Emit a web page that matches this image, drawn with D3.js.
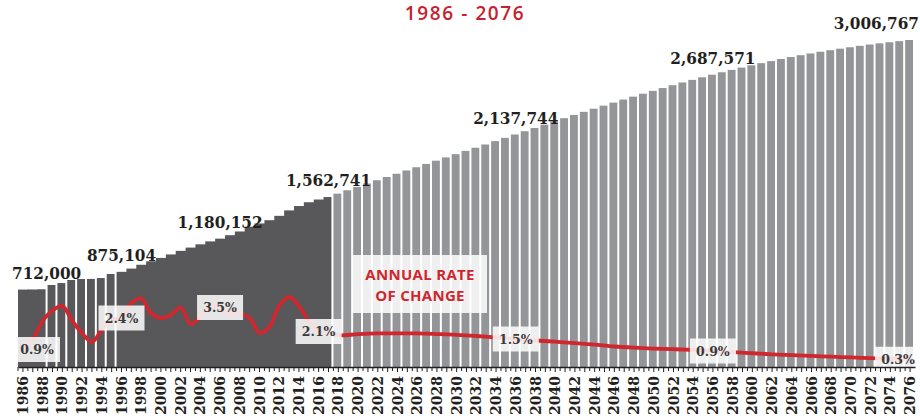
<!DOCTYPE html>
<html>
<head>
<meta charset="utf-8">
<script src="https://cdn.jsdelivr.net/npm/d3@7"></script>
<style>
  body { margin: 0; background: #fff; }
  svg { display: block; }
</style>
</head>
<body>
<svg id="chart" width="920" height="420"></svg>
<script>
/* Data */
const histYears = d3.range(1986, 2018);
const projYears = d3.range(2018, 2077);

const histPop = [
  712000, 713000, 715000, 754000, 772000, 800000, 809000, 810000, 818000, 855000,
  875104, 905000, 940000, 972000, 1003000, 1035000, 1068000, 1098000, 1128000, 1155000,
  1180152, 1212000, 1246000, 1290000, 1320000, 1350000, 1390000, 1440000, 1480000, 1515000,
  1540000, 1562741
];

const projPop = [
  1594000, 1625000, 1656000, 1687000, 1717000, 1747000, 1777000, 1807000, 1837000, 1867000,
  1897000, 1927000, 1957000, 1987000, 2016000, 2046000, 2077000, 2107000, 2137744, 2168000,
  2198000, 2228000, 2258000, 2288000, 2317000, 2346000, 2375000, 2403000, 2431000, 2459000,
  2486000, 2513000, 2539000, 2565000, 2591000, 2616000, 2640000, 2664000, 2687571, 2710000,
  2732000, 2753000, 2774000, 2794000, 2813000, 2832000, 2850000, 2867000, 2883000, 2899000,
  2913000, 2927000, 2940000, 2953000, 2965000, 2976000, 2986000, 2996000, 3006767
];

// annual rate of change (%), yearly for the past, every 2 years for the projection
const rateYears = d3.range(1986, 2018).concat(d3.range(2018, 2077, 2));
const rateValues = [
  0.9, 1.6, 2.8, 3.5, 3.8, 2.8, 2.0, 1.4, 2.2, 2.9,
  3.0, 4.0, 4.3, 3.3, 3.0, 3.2, 3.7, 2.6, 3.1, 3.8,
  3.7, 3.3, 3.3, 3.0, 2.0, 2.4, 3.8, 4.4, 3.8, 2.8,
  2.1, 2.0,
  1.85, 1.92, 1.97, 1.98, 1.97, 1.93, 1.88, 1.8, 1.7, 1.6,
  1.5, 1.42, 1.33, 1.22, 1.1, 1.02, 0.96, 0.92, 0.87, 0.8,
  0.72, 0.65, 0.58, 0.52, 0.47, 0.42, 0.37, 0.32, 0.28, 0.25
];

const popLabelYears = [1986, 1996, 2006, 2017, 2036, 2056, 2076];
const rateLabelYears = [1986, 1996, 2006, 2016, 2036, 2056, 2076];
const rateLabelText = ["0.9%", "2.4%", "3.5%", "2.1%", "1.5%", "0.9%", "0.3%"];

const bars = histYears.map((y, i) => ({ year: y, value: histPop[i], past: true }))
  .concat(projYears.map((y, i) => ({ year: y, value: projPop[i], past: false })));
const rates = rateYears.map((y, i) => ({ year: y, value: rateValues[i] }));

const svg = d3.select("#chart");
const baseY = 367;

const x = d3.scaleBand()
  .domain(bars.map(d => d.year))
  .range([18, 915])
  .padding(0);

const y = d3.scaleLinear()
  .domain([0, d3.max(bars, d => d.value)])
  .range([baseY, 40]);

const yRate = d3.scaleLinear()
  .domain([0, 5])
  .range([363, 288]);

const bw = x.bandwidth();
const cx = yr => x(yr) + bw / 2;

/* bars: early years and projection have a thin white gap */
const hasGap = d => (d.year >= 1988 && d.year <= 1995) || d.year >= 2017;

svg.append("g")
  .selectAll("rect")
  .data(bars)
  .enter()
  .append("rect")
  .attr("x", d => x(d.year))
  .attr("y", d => y(d.value))
  .attr("width", d => hasGap(d) ? bw - 2 : bw + 1)
  .attr("height", d => baseY - y(d.value))
  .attr("fill", d => d.past ? "#58585a" : "#939598");

/* population labels */
const fmt = d3.format(",");
svg.append("g")
  .selectAll("text")
  .data(popLabelYears)
  .enter()
  .append("text")
  .attr("x", (d, i) => i === 0 ? x(d) - 6 : (d === 2076 ? 919 : cx(d)))
  .attr("y", d => y(bars.find(b => b.year === d).value) - 11)
  .attr("text-anchor", (d, i) => i === 0 ? "start" : (d === 2076 ? "end" : "middle"))
  .attr("font-family", "DejaVu Serif Condensed, DejaVu Serif")
  .attr("font-weight", "bold")
  .attr("font-size", "17px")
  .attr("fill", "#231f20")
  .text(d => fmt(bars.find(b => b.year === d).value));

/* rate of change line */
const line = d3.line()
  .x(d => cx(d.year))
  .y(d => yRate(d.value))
  .curve(d3.curveCatmullRom.alpha(0.5));

svg.append("path")
  .datum(rates)
  .attr("d", line)
  .attr("fill", "none")
  .attr("stroke", "#d0262d")
  .attr("stroke-width", 3.8)
  .attr("stroke-linecap", "round");

/* rate labels */
const rateGroups = svg.append("g")
  .selectAll("g")
  .data(rateLabelYears)
  .enter()
  .append("g")
  .attr("transform", d => {
    const px = Math.max(37, Math.min(898, cx(d)));
    const py = yRate(rates.find(r => r.year === d).value);
    return `translate(${px}, ${py})`;
  });

rateGroups.append("rect")
  .attr("x", -23)
  .attr("y", -12.5)
  .attr("width", 46)
  .attr("height", 25)
  .attr("fill", "#fff")
  .attr("fill-opacity", 0.85);

rateGroups.append("text")
  .attr("text-anchor", "middle")
  .attr("dy", "0.36em")
  .attr("font-family", "DejaVu Serif")
  .attr("font-weight", "bold")
  .attr("font-size", "12.5px")
  .attr("fill", "#3a3a3a")
  .text((d, i) => rateLabelText[i]);

/* annual rate annotation */
svg.append("rect")
  .attr("x", 352)
  .attr("y", 255)
  .attr("width", 135)
  .attr("height", 58)
  .attr("fill", "#fff")
  .attr("fill-opacity", 0.85);

svg.append("text")
  .attr("x", 420)
  .attr("y", 280)
  .attr("text-anchor", "middle")
  .attr("font-family", "Open Sans")
  .attr("font-weight", "bold")
  .attr("font-size", "15px")
  .attr("letter-spacing", "0.3px")
  .attr("fill", "#d0262d")
  .selectAll("tspan")
  .data(["ANNUAL RATE", "OF CHANGE"])
  .enter()
  .append("tspan")
  .attr("x", 420)
  .attr("dy", (d, i) => i === 0 ? 0 : 21)
  .text(d => d);

/* title */
svg.append("text")
  .attr("x", 465)
  .attr("y", 20)
  .attr("text-anchor", "middle")
  .attr("font-family", "Open Sans")
  .attr("font-weight", 600)
  .attr("font-size", "19px")
  .attr("letter-spacing", "1.6px")
  .attr("fill", "#c8202f")
  .text("1986 - 2076");

/* x axis */
const axis = d3.axisBottom(x)
  .tickValues(bars.map(d => d.year))
  .tickSize(5)
  .tickSizeOuter(0)
  .tickFormat(d => d % 2 === 0 ? d : "");

const axisG = svg.append("g")
  .attr("transform", `translate(0, ${baseY})`)
  .call(axis);

axisG.select(".domain").attr("stroke", "#231f20").attr("stroke-width", 1.5);
axisG.selectAll(".tick line").attr("stroke", "#231f20");

axisG.selectAll(".tick text")
  .attr("transform", "rotate(-90)")
  .attr("text-anchor", "end")
  .attr("x", -9)
  .attr("y", 0)
  .attr("dy", "0.36em")
  .attr("font-family", "DejaVu Serif")
  .attr("font-weight", "bold")
  .attr("font-size", "14px")
  .attr("fill", "#231f20");

// extra small ticks on band edges
axisG.selectAll(".edge")
  .data(bars)
  .enter()
  .append("line")
  .attr("class", "edge")
  .attr("x1", d => x(d.year))
  .attr("x2", d => x(d.year))
  .attr("y1", 0)
  .attr("y2", 4)
  .attr("stroke", "#231f20");
</script>
</body>
</html>
